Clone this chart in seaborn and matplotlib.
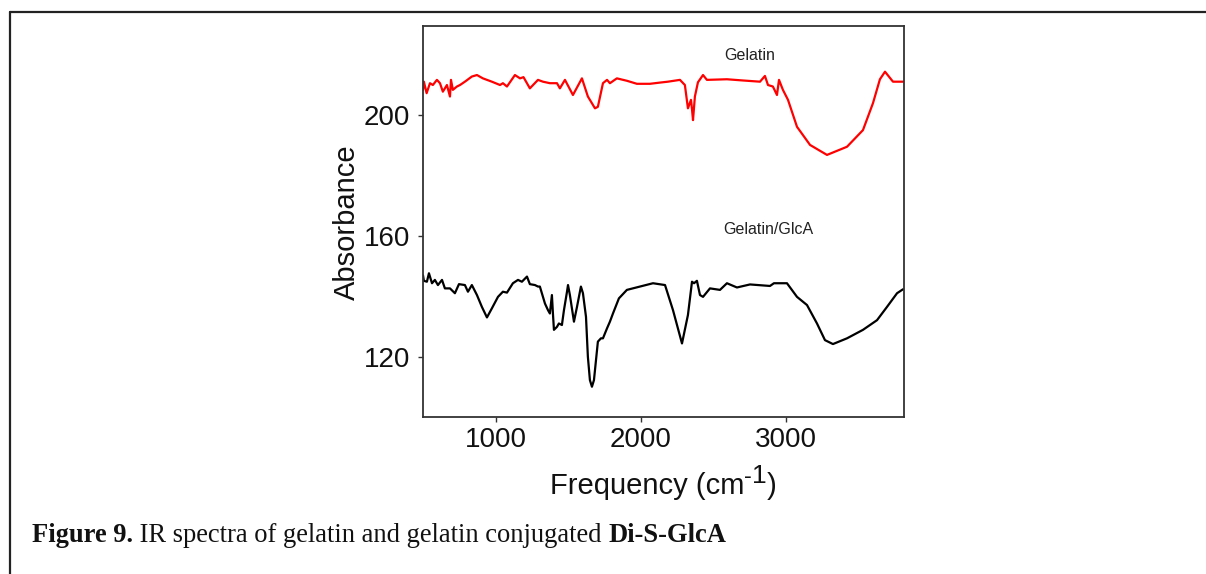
import numpy as np
import pandas as pd
import matplotlib
matplotlib.use("Agg")
import matplotlib.pyplot as plt
import seaborn as sns
from matplotlib.lines import Line2D

# ---------------- data ----------------
gelatin_freq = [497, 503, 522, 545, 565, 593, 614, 634, 662, 683, 690, 703, 731, 752, 786,
                834, 869, 910, 938, 972, 1028, 1048, 1076, 1131, 1166, 1190, 1234, 1290,
                1324, 1372, 1421, 1441, 1476, 1531, 1593, 1634, 1683, 1703, 1738, 1766,
                1786, 1834, 1903, 1972, 2062, 2131, 2186, 2269, 2303, 2324, 2345, 2352,
                2359, 2372, 2393, 2428, 2455, 2593, 2703, 2821, 2855, 2876, 2910, 2938,
                2952, 2979, 3014, 3076, 3166, 3283, 3421, 3531, 3600, 3648, 3683, 3738, 3807]
gelatin_abs = [208.3, 211.0, 207.2, 210.5, 209.9, 211.6, 210.5, 207.7, 209.9, 206.1, 211.6,
               208.3, 209.4, 209.9, 211.0, 212.7, 213.2, 212.1, 211.6, 211.0, 209.9, 210.5,
               209.4, 213.2, 212.1, 212.5, 208.8, 211.6, 211.0, 210.5, 210.5, 208.8, 211.6,
               206.6, 212.1, 206.1, 202.2, 202.7, 210.5, 211.6, 210.5, 212.1, 211.3, 210.3,
               210.3, 210.7, 211.0, 211.6, 209.9, 202.2, 205.0, 201.9, 198.3, 206.1, 210.8,
               213.2, 211.6, 211.8, 211.4, 211.0, 212.9, 209.9, 209.4, 206.6, 211.6, 208.3,
               205.0, 196.1, 190.1, 186.8, 189.5, 195.0, 203.9, 211.8, 214.3, 211.0, 211.0]

conj_freq = [497, 503, 524, 538, 559, 579, 600, 628, 648, 683, 717, 745, 786, 807, 834, 869,
             903, 938, 972, 1014, 1048, 1076, 1117, 1152, 1179, 1214, 1234, 1269, 1290, 1303,
             1338, 1359, 1372, 1386, 1393, 1400, 1421, 1434, 1455, 1469, 1490, 1497, 1510,
             1538, 1559, 1586, 1600, 1621, 1634, 1648, 1662, 1676, 1690, 1703, 1724, 1738,
             1766, 1786, 1807, 1848, 1903, 2083, 2166, 2221, 2283, 2324, 2352, 2366, 2386,
             2407, 2428, 2476, 2545, 2593, 2662, 2752, 2890, 2917, 3007, 3076, 3145, 3214,
             3269, 3324, 3421, 3531, 3628, 3697, 3766, 3807]
conj_abs = [147.0, 145.2, 144.9, 147.7, 144.4, 145.5, 143.8, 145.5, 142.7, 142.7, 141.1,
            144.1, 143.8, 141.6, 143.8, 140.5, 136.6, 133.1, 136.1, 139.9, 141.6, 141.3,
            144.4, 145.5, 144.9, 146.6, 144.1, 143.8, 143.3, 143.3, 137.7, 135.5, 134.4,
            140.5, 134.4, 129.0, 130.0, 131.1, 130.6, 135.5, 141.6, 143.8, 140.5, 131.7,
            136.6, 143.3, 141.1, 133.3, 120.1, 112.4, 110.2, 112.4, 119.0, 125.1, 126.2,
            126.2, 129.5, 131.7, 134.4, 139.4, 142.2, 144.4, 143.8, 135.5, 124.5, 133.9,
            144.9, 144.4, 145.2, 140.5, 139.9, 142.7, 142.2, 144.4, 143.0, 144.0, 143.5,
            144.4, 144.4, 139.9, 137.2, 131.1, 125.6, 124.3, 126.2, 129.0, 132.2, 136.6,
            141.1, 142.4]

series_labels = ["Gelatin", "Gelatin/GlcA"]
x_ticks = [1000, 2000, 3000]
y_ticks = [120, 160, 200]

# ---------------- style ----------------
sns.set_theme(style="ticks")
plt.rcParams["font.family"] = ["Liberation Sans", "DejaVu Sans"]

W, H = 1206, 574
fig = plt.figure(figsize=(W / 100, H / 100), dpi=100)
fig.patch.set_facecolor("white")
ax = fig.add_axes([423 / W, 1 - 417 / H, (904 - 423) / W, (417 - 26) / H])

df_gel = pd.DataFrame({"freq": gelatin_freq, "abs": gelatin_abs})
df_conj = pd.DataFrame({"freq": conj_freq, "abs": conj_abs})
sns.lineplot(data=df_gel, x="freq", y="abs", color="#ff0000", lw=1.6, ax=ax,
             estimator=None, sort=False)
sns.lineplot(data=df_conj, x="freq", y="abs", color="#000000", lw=1.6, ax=ax,
             estimator=None, sort=False)

ax.set_xlim(497, 3814)
ax.set_ylim(100.2, 229.4)
ax.set_xticks(x_ticks)
ax.set_yticks(y_ticks)
ax.tick_params(axis="both", labelsize=20, length=3.6, width=1.0, color="#333333",
               labelcolor="#111111", direction="out")
ax.tick_params(axis="x", pad=3.5)
ax.tick_params(axis="y", pad=5.5)
for s in ax.spines.values():
    s.set_visible(True)
    s.set_color("#333333")
    s.set_linewidth(1.3)
ax.set_xlabel("")
ax.set_ylabel("")

ax.text(2752, 219.5, series_labels[0], fontsize=11.5, ha="center", va="center", color="#222222")
ax.text(2876, 162.0, series_labels[1], fontsize=11.5, ha="center", va="center", color="#222222")

# outer frame (top and left rules)
fig.add_artist(Line2D([10 / W, 1.0], [1 - 12 / H, 1 - 12 / H], transform=fig.transFigure,
                      color="#222222", lw=1.6))
fig.add_artist(Line2D([10 / W, 10 / W], [1 - 12 / H, 0.0], transform=fig.transFigure,
                      color="#222222", lw=1.6))

fig.canvas.draw()
renderer = fig.canvas.get_renderer()


def place_pieces(pieces, x_start, family):
    """pieces: (text, size, weight, baseline_px_from_top)"""
    x_px = x_start
    for txt, size, wt, base in pieces:
        t = fig.text(x_px / W, 1 - base / H, txt, fontsize=size, fontweight=wt,
                     family=family, va="baseline", ha="left", color="#111111")
        x_px += t.get_window_extent(renderer=renderer).width
    return x_px


def width_of(pieces, family):
    tot = 0
    for txt, size, wt, base in pieces:
        t = fig.text(0, 0, txt, fontsize=size, fontweight=wt, family=family)
        tot += t.get_window_extent(renderer=renderer).width
        t.remove()
    return tot


# x-axis label with a large superscript
sans = ["Liberation Sans", "DejaVu Sans"]
xl = [("Frequency (cm", 21, "normal", 494), ("-", 17, "normal", 483),
      ("1", 19, "normal", 483), (")", 21, "normal", 494)]
wx = width_of(xl, sans)
place_pieces(xl, 663 - wx / 2, sans)

# y-axis label
fig.text(347 / W, 1 - 222 / H, "Absorbance", fontsize=21, rotation=90, ha="center",
         va="center", family=sans, color="#111111")

# caption with mixed bold / regular pieces
serif = ["Liberation Serif", "DejaVu Serif"]
cap = [("Figure 9.", 19.1, "bold", 542),
       (" IR spectra of gelatin and gelatin conjugated ", 19.1, "normal", 542),
       ("Di-S-GlcA", 19.1, "bold", 542)]
place_pieces(cap, 32, serif)

fig.savefig("out.png", dpi=100, facecolor="white")
